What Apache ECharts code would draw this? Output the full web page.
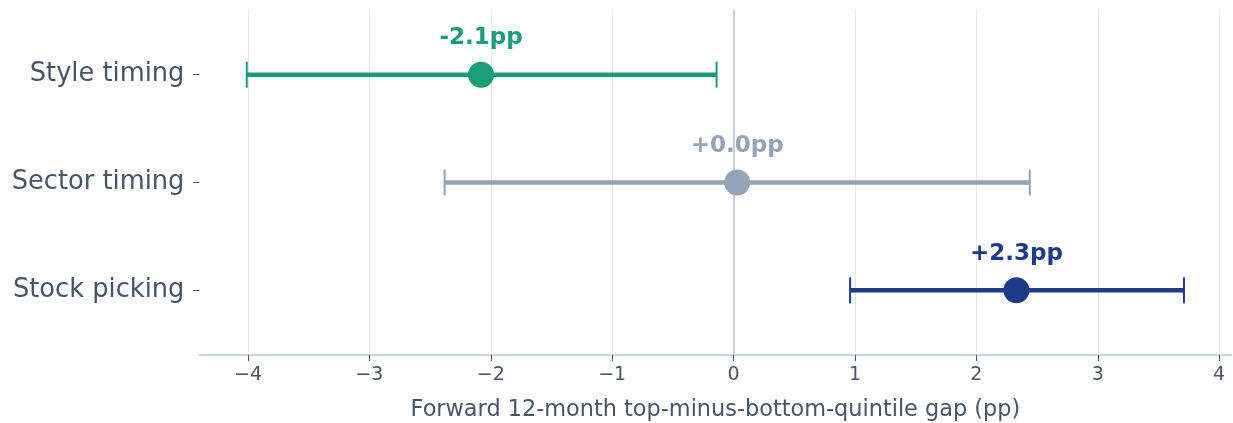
<!DOCTYPE html>
<html><head><meta charset="utf-8">
<script src="https://cdn.jsdelivr.net/npm/echarts@6/dist/echarts.min.js"></script>
<style>html,body{margin:0;padding:0;background:#fff}#c{width:1233px;height:423px}</style>
</head><body><div id="c"></div>
<script>
const categories = ['Stock picking', 'Sector timing', 'Style timing'];
const estimates = [2.33, 0.03, -2.08];
const lowerCI = [0.96, -2.38, -4.01];
const upperCI = [3.71, 2.44, -0.14];
const valueLabels = ['+2.3pp', '+0.0pp', '-2.1pp'];
const colors = ['#1e3a8a', '#94a3b8', '#1b9e77'];
const xTicks = [-4, -3, -2, -1, 0, 1, 2, 3, 4];
const xTickLabels = ['\u22124', '\u22123', '\u22122', '\u22121', '0', '1', '2', '3', '4'];
const xTitle = 'Forward 12-month top-minus-bottom-quintile gap (pp)';

const FONT = 'DejaVu Sans';
const TEXT = '#475569';
const rows = categories.map((c, i) => i);

const chart = echarts.init(document.getElementById('c'), null, {renderer: 'canvas'});
chart.setOption({
  animation: false,
  backgroundColor: '#fff',
  grid: {left: 199.4, right: 1.7, top: 10, bottom: 68, containLabel: false, outerBoundsMode: 'none'},
  xAxis: {
    type: 'value', min: -4.4, max: 4.1,
    splitLine: {show: false},
    axisLine: {show: true, onZero: false, lineStyle: {color: '#cbd5e1', width: 2}},
    axisTick: {show: true, customValues: xTicks, length: 6, lineStyle: {color: TEXT, width: 1}},
    axisLabel: {customValues: xTicks, formatter: v => xTickLabels[xTicks.indexOf(v)] ?? '',
      color: TEXT, fontFamily: FONT, fontSize: 19, margin: 11},
    name: xTitle, nameLocation: 'middle', nameGap: 44,
    nameTextStyle: {color: TEXT, fontFamily: FONT, fontSize: 22.4}
  },
  yAxis: {
    type: 'value', min: -0.6, max: 2.6,
    splitLine: {show: false},
    axisLine: {show: false, onZero: false},
    axisTick: {show: true, customValues: rows, length: 6, lineStyle: {color: TEXT, width: 1}},
    axisLabel: {customValues: rows, formatter: v => categories[v] ?? '',
      color: TEXT, fontFamily: FONT, fontSize: 25.7, margin: 15}
  },
  series: [
    {
      type: 'scatter', data: [], silent: true,
      markLine: {
        silent: true, symbol: 'none', label: {show: false}, z: 1,
        data: xTicks.map(v => ({xAxis: v, lineStyle: v === 0 ? {color: '#c5cedb', width: 2, type: 'solid'} : {color: '#e5e7eb', width: 1, type: 'solid'}}))
      },
      z: 1
    },
    {
      type: 'custom', z: 3,
      data: rows.map(i => [lowerCI[i], upperCI[i], i]),
      renderItem: (params, api) => {
        const lo = api.value(0), hi = api.value(1), y = api.value(2);
        const a = api.coord([lo, y]), b = api.coord([hi, y]);
        const col = colors[y];
        const cap = 13;
        return {type: 'group', children: [
          {type: 'line', shape: {x1: a[0], y1: a[1], x2: b[0], y2: b[1]}, style: {stroke: col, lineWidth: 4.5}},
          {type: 'line', shape: {x1: a[0], y1: a[1] - cap, x2: a[0], y2: a[1] + cap}, style: {stroke: col, lineWidth: 2}},
          {type: 'line', shape: {x1: b[0], y1: b[1] - cap, x2: b[0], y2: b[1] + cap}, style: {stroke: col, lineWidth: 2}}
        ]};
      }
    },
    {
      type: 'scatter', z: 4, symbol: 'circle', symbolSize: 26,
      data: rows.map(i => ({
        value: [estimates[i], i],
        itemStyle: {color: colors[i], opacity: 1},
        label: {show: true, position: 'top', distance: 12, formatter: valueLabels[i], opacity: 1,
          color: colors[i], fontFamily: FONT, fontWeight: 'bold', fontSize: 23}
      }))
    }
  ]
});
</script></body></html>
